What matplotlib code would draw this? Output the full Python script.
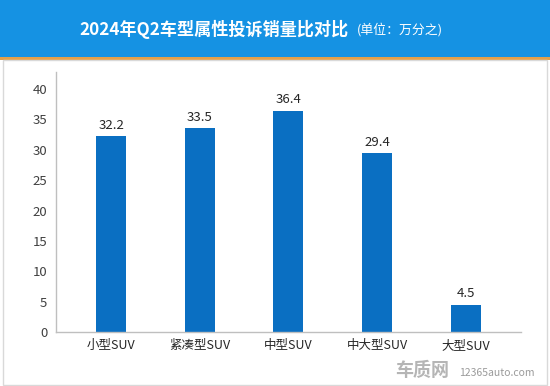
import matplotlib
matplotlib.use("Agg")
import matplotlib.pyplot as plt
from matplotlib.patches import Rectangle

plt.rcParams['font.family'] = ['Noto Sans CJK SC', 'DejaVu Sans']

categories = ["小型SUV", "紧凑型SUV", "中型SUV", "中大型SUV", "大型SUV"]
values = [32.2, 33.5, 36.4, 29.4, 4.5]
yticks = [0, 5, 10, 15, 20, 25, 30, 35, 40]
title = "2024年Q2车型属性投诉销量比对比"
unit = "(单位：万分之)"

W, H = 550, 386
fig = plt.figure(figsize=(W / 100, H / 100), dpi=100)
fig.patch.set_facecolor("white")

# banner
fig.patches.append(Rectangle((0, 1 - 57 / H), 1, 57 / H, transform=fig.transFigure,
                             facecolor="#1592E3", edgecolor="none", zorder=0))
fig.patches.append(Rectangle((0, 1 - 60 / H), 1, 3 / H, transform=fig.transFigure,
                             facecolor="#E4A04A", edgecolor="none", zorder=0))
# panel border
fig.patches.append(Rectangle((3 / W, 1 / H), 544 / W, (H - 61) / H, transform=fig.transFigure,
                             facecolor="none", edgecolor="#D9D9D9", linewidth=1, zorder=0))

fig.text(79 / W, 1 - 29 / H, title, color="white", fontsize=12.3, fontweight="bold",
         ha="left", va="center")
fig.text(357 / W, 1 - 30 / H, unit, color="white", fontsize=9.3,
         ha="left", va="center")

ax = fig.add_axes([55.7 / W, 1 - 332 / H, (521 - 55.7) / W, (332 - 72) / H])
x = list(range(len(categories)))
bars = ax.bar(x, values, width=0.34, color="#0A6FC2", zorder=2)
for xi, v in zip(x, values):
    ax.text(xi, v + 0.8, f"{v}", ha="center", va="bottom", fontsize=9.5, color="#262626")

ax.set_ylim(0, 42.8)
ax.set_xlim(-0.625, 4.625)
ax.set_yticks(yticks)
ax.set_yticklabels([str(t) for t in yticks], fontsize=9.5, color="#404040")
ax.set_xticks(x)
ax.set_xticklabels(categories, fontsize=9, color="#262626")
ax.tick_params(axis="both", length=0, pad=6)
ax.tick_params(axis="x", pad=5)
for s in ["top", "right"]:
    ax.spines[s].set_visible(False)
for s in ["left", "bottom"]:
    ax.spines[s].set_color("#BFBFBF")
    ax.spines[s].set_linewidth(1)

# watermark
fig.text(395 / W, 1 - 371 / H, "车质网", fontsize=13, fontweight="bold", color="#B5B5B5",
         ha="left", va="center")
fig.text(459 / W, 1 - 373 / H, "12365auto.com", fontsize=7.5, color="#9A9A9A",
         ha="left", va="center")

fig.savefig("out.png", dpi=100)
